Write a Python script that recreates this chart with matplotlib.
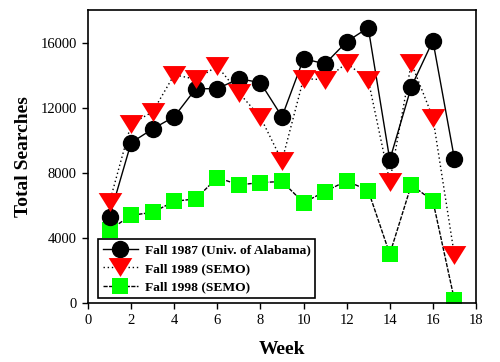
import matplotlib
matplotlib.use("Agg")
import matplotlib.pyplot as plt
from matplotlib.markers import MarkerStyle
from matplotlib.path import Path

weeks = list(range(1, 18))
fall_1987 = [5300, 9850, 10700, 11450, 13170, 13170, 13790, 13540, 11450, 15010,
             14700, 16060, 16920, 8800, 13290, 16120, 8860]
fall_1989 = [6200, 11000, 11750, 14030, 13750, 14550, 12920, 11420, 8740, 13790,
             13720, 14740, 13720, 7450, 14740, 11390, 2920]
fall_1998 = [4490, 5390, 5570, 6250, 6400, 7710, 7260, 7400, 7470, 6170,
             6850, 7510, 6910, 3010, 7260, 6280, 180]

labels = ["Fall 1987 (Univ. of Alabama)", "Fall 1989 (SEMO)", "Fall 1998 (SEMO)"]
x_ticks = list(range(0, 19, 2))
y_ticks = [0, 4000, 8000, 12000, 16000]

serif = ["Liberation Serif", "DejaVu Serif"]
plt.rcParams["font.family"] = serif

fig = plt.figure(figsize=(5.0, 3.62), dpi=100)
ax = fig.add_axes([0.176, 0.163, 0.776, 0.809])

tri = MarkerStyle(Path([(-1, 0.8), (1, 0.8), (0, -0.8), (-1, 0.8)],
                       [Path.MOVETO, Path.LINETO, Path.LINETO, Path.CLOSEPOLY]))

ax.plot(weeks, fall_1987, color="black", lw=1, ls="-", marker="o", ms=11.5,
        mfc="black", mec="black", label=labels[0], zorder=3)
ax.plot(weeks, fall_1989, color="black", lw=1, ls=(0, (1, 2)), marker=tri, ms=17,
        mfc="#ff0000", mec="#ff0000", mew=0, label=labels[1], zorder=4)
ax.plot(weeks, fall_1998, color="black", lw=1, ls=(0, (3, 1)), marker="s", ms=11.5,
        mfc="#00ff00", mec="#00ff00", mew=0, label=labels[2], zorder=2)

ax.set_xlim(0, 18)
ax.set_ylim(0, 18000)
ax.set_xticks(x_ticks)
ax.set_yticks(y_ticks)
ax.tick_params(direction="out", length=4, width=1, labelsize=10.5, pad=4)
for s in ax.spines.values():
    s.set_linewidth(1.2)

ax.set_xlabel("Week", fontsize=14, fontweight="bold", labelpad=10)
ax.set_ylabel("Total Searches", fontsize=14, fontweight="bold", labelpad=6)

leg = ax.legend(loc="lower left", bbox_to_anchor=(0.026, 0.017), borderaxespad=0,
                prop={"family": serif, "weight": "bold", "size": 9.7},
                fancybox=False, edgecolor="black", framealpha=1,
                handlelength=2.6, handletextpad=0.5, labelspacing=0.45,
                borderpad=0.35)
leg.get_frame().set_linewidth(1.2)

fig.savefig("out.png", dpi=100)
